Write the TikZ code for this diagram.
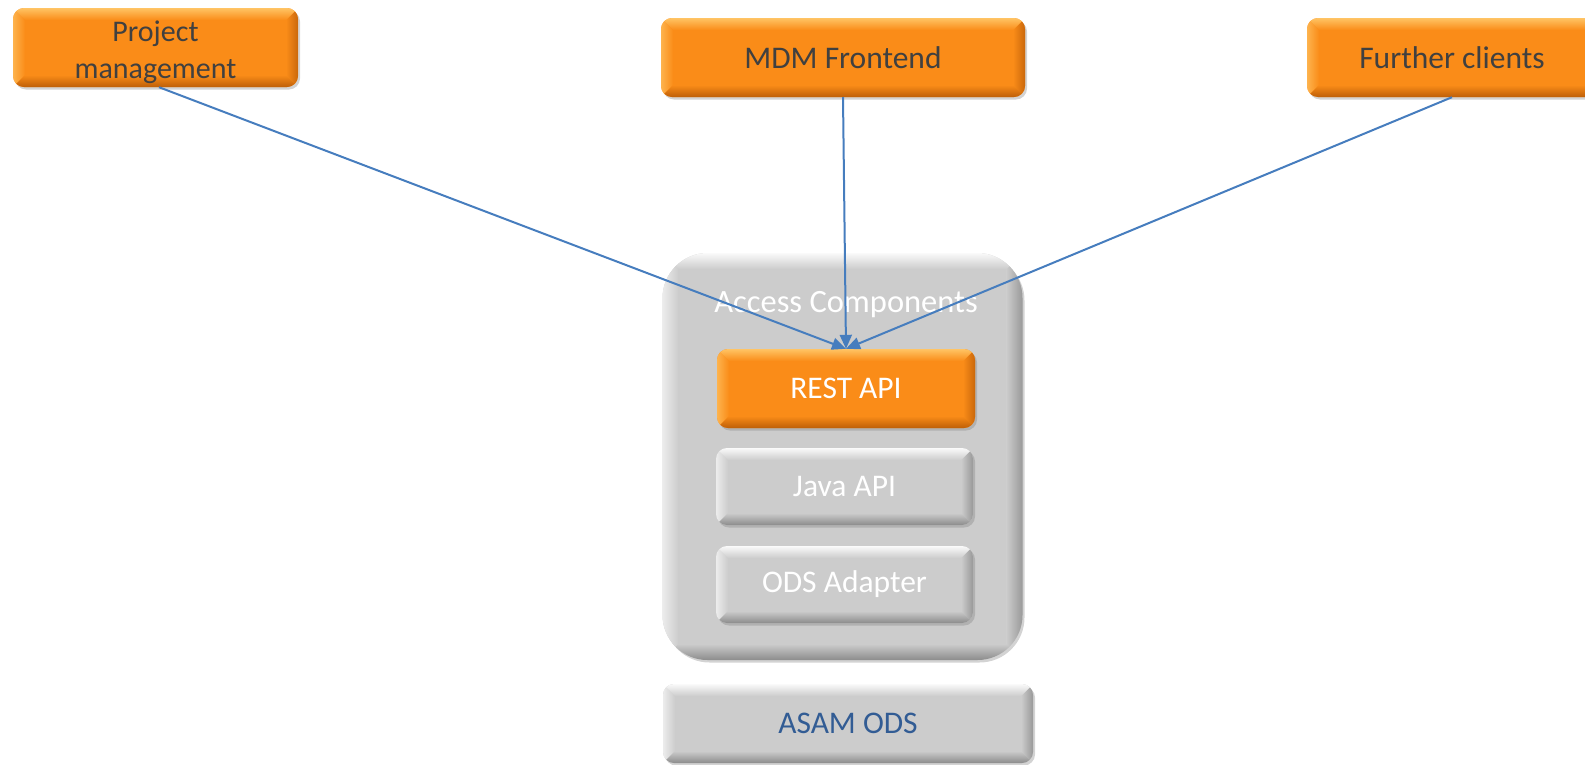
\documentclass[tikz,border=0pt]{standalone}
\usepackage{fontspec}
\setmainfont{Carlito}
\usetikzlibrary{arrows.meta,shadows}
\definecolor{orBase}{RGB}{250,140,24}
\definecolor{orLight}{RGB}{255,196,100}
\definecolor{orDark}{RGB}{190,95,8}
\definecolor{grBase}{RGB}{204,204,204}
\definecolor{grLight}{RGB}{250,250,250}
\definecolor{grDark}{RGB}{140,140,140}
\definecolor{txDark}{RGB}{64,64,64}
\definecolor{txBlue}{RGB}{50,92,148}
\definecolor{arBlue}{RGB}{70,125,190}
\tikzset{
  bev/.style n args={4}{%
    fill=#1, draw=none, inner sep=0pt, align=center,
    drop shadow={shadow xshift=2pt, shadow yshift=-2.5pt, opacity=0.35},
    path picture={
      \coordinate (NW) at (path picture bounding box.north west);
      \coordinate (NE) at (path picture bounding box.north east);
      \coordinate (SW) at (path picture bounding box.south west);
      \coordinate (SE) at (path picture bounding box.south east);
      \shade[left color=#2!70!#1, right color=#1, sharp corners] (NW) -- (SW) -- ([xshift=#4,yshift=#4]SW) -- ([xshift=#4,yshift=-#4]NW) -- cycle;
      \shade[left color=#1, right color=#3!80!#1, sharp corners] (NE) -- (SE) -- ([xshift=-#4,yshift=#4]SE) -- ([xshift=-#4,yshift=-#4]NE) -- cycle;
      \shade[top color=#2, bottom color=#1, sharp corners] (NW) -- (NE) -- ([xshift=-#4,yshift=-#4]NE) -- ([xshift=#4,yshift=-#4]NW) -- cycle;
      \shade[top color=#1, bottom color=#3, sharp corners] (SW) -- (SE) -- ([xshift=-#4,yshift=#4]SE) -- ([xshift=#4,yshift=#4]SW) -- cycle;
    }
  },
  orbox/.style={bev={orBase}{orLight}{orDark}{12pt}, rounded corners=11pt},
  grbox/.style={bev={grBase}{grLight}{grDark}{12pt}, rounded corners=11pt},
  bigbox/.style={bev={grBase}{grLight}{grDark}{16pt}, rounded corners=45pt},
  toptext/.style={text=txDark, font=\fontsize{31.5}{37}\selectfont},
  intext/.style={text=white, font=\fontsize{31.5}{37}\selectfont},
  conn/.style={draw=arBlue, line width=2pt, -{Triangle[length=14pt,width=12pt]}}
}
\begin{document}
\begin{tikzpicture}[x=1pt,y=-1pt]
\useasboundingbox (0,0) rectangle (1585,764);
\clip (0,0) rectangle (1585,764);
\node[orbox, minimum width=285pt, minimum height=79pt] (pm) at (155.5,47.5) {};
\node[toptext, align=center, font=\fontsize{30}{37}\selectfont] (pmlbl) at (155.5,52) {Project\\management};
\node[orbox, toptext, minimum width=364pt, minimum height=79pt] (mdm) at (843,57.5) {MDM Frontend};
\node[orbox, toptext, minimum width=290pt, minimum height=79pt] (fc) at (1452,57.5) {Further clients};
\node[bigbox, minimum width=360pt, minimum height=407pt] (acc) at (842.5,456.5) {};
\node[intext, anchor=base, font=\fontsize{32.5}{37}\selectfont] (acclbl) at (846,312) {Access Components};
\node[orbox, intext, minimum width=258pt, minimum height=79pt] (rest) at (846,388.5) {REST API};
\node[grbox, intext, minimum width=257pt, minimum height=77pt] (java) at (844.5,486.5) {Java API};
\node[grbox, intext, minimum width=257pt, minimum height=77pt] (ods) at (844.5,584.5) {ODS Adapter};
\node[grbox, text=txBlue, font=\fontsize{31.5}{37}\selectfont, minimum width=370pt, minimum height=79pt] (asam) at (848,723.5) {ASAM ODS};
\draw[conn] ([xshift=3.5pt]pm.south) -- (rest.north);
\draw[conn] (mdm.south) -- (rest.north);
\draw[conn] (fc.south) -- (rest.north);
\end{tikzpicture}
\end{document}
